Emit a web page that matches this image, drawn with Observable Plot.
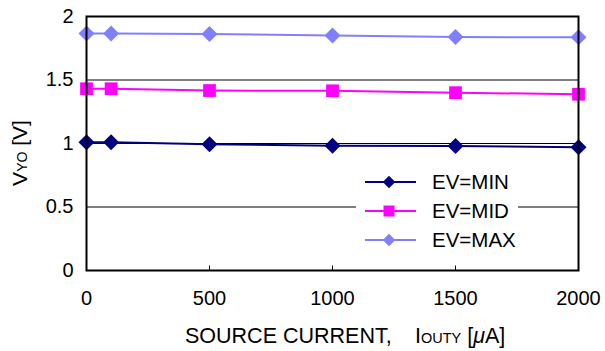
<!DOCTYPE html>
<html>
<head>
<meta charset="utf-8">
<script src="https://cdn.jsdelivr.net/npm/d3@7"></script>
<script src="https://cdn.jsdelivr.net/npm/@observablehq/plot@0.6"></script>
<style>
  html, body { margin: 0; padding: 0; background: #fff; }
  #chart svg { display: block; font-family: "Liberation Sans", Arial, sans-serif; }
</style>
</head>
<body>
<div id="chart"></div>
<script>
const current = [0, 100, 500, 1000, 1500, 2000];
const evMin = [1.010, 1.010, 0.995, 0.982, 0.980, 0.970];
const evMid = [1.431, 1.431, 1.417, 1.415, 1.400, 1.388];
const evMax = [1.866, 1.866, 1.862, 1.850, 1.838, 1.836];
const seriesNames = ["EV=MIN", "EV=MID", "EV=MAX"];
const seriesColors = ["#000080", "#FF00FF", "#8080FF"];
const seriesSymbols = ["diamond2", "square", "diamond2"];
const xTicks = [0, 500, 1000, 1500, 2000];
const yTicks = [0, 0.5, 1, 1.5, 2];
const gridY = [0.5, 1, 1.5];

const seriesValues = [evMin, evMid, evMax];
const rows = [];
seriesNames.forEach((name, i) => {
  current.forEach((c, j) => rows.push({series: name, x: c, y: seriesValues[i][j]}));
});

const font = "Liberation Sans, Arial, sans-serif";
const marks = [
  Plot.ruleY(gridY, {stroke: "#000", strokeWidth: 1}),
  Plot.ruleX(xTicks, {x: d => d, y1: 0, y2: 0.035, stroke: "#000", strokeWidth: 1}),
  Plot.axisX({ticks: xTicks, tickSize: 0, tickPadding: 20, tickFormat: d => String(d), label: null, fill: "#000"}),
  Plot.axisY({ticks: yTicks, tickSize: 0, tickPadding: 13, tickFormat: d => String(d), label: null, fill: "#000"})
];
seriesNames.forEach((name, i) => {
  const data = rows.filter(d => d.series === name);
  marks.push(Plot.line(data, {x: "x", y: "y", stroke: seriesColors[i], strokeWidth: 2}));
  marks.push(Plot.dot(data, {x: "x", y: "y", symbol: seriesSymbols[i], fill: seriesColors[i], r: seriesSymbols[i] === "square" ? 7.2 : 7.2, stroke: "none"}));
});
marks.push(Plot.frame({stroke: "#000", strokeWidth: 2}));

const chart = Plot.plot({
  width: 605,
  height: 351,
  marginLeft: 86,
  marginRight: 27,
  marginTop: 16,
  marginBottom: 81,
  style: {fontFamily: font, fontSize: "20px", background: "#fff", color: "#000", overflow: "visible"},
  x: {domain: [0, 2000]},
  y: {domain: [0, 2]},
  marks
});

const svg = d3.select(chart);

// Legend
const lg = svg.append("g");
lg.append("rect").attr("x", 356).attr("y", 166).attr("width", 162).attr("height", 88).attr("fill", "#fff");
seriesNames.forEach((name, i) => {
  const cy = 182 + i * 29;
  lg.append("line").attr("x1", 365).attr("x2", 416).attr("y1", cy).attr("y2", cy)
    .attr("stroke", seriesColors[i]).attr("stroke-width", 2);
  const sym = seriesSymbols[i] === "square" ? d3.symbolSquare : d3.symbolDiamond2;
  const size = seriesSymbols[i] === "square" ? 121 : 100;
  lg.append("path").attr("d", d3.symbol(sym, size)()).attr("transform", `translate(389,${cy})`)
    .attr("fill", seriesColors[i]);
  lg.append("text").attr("x", 432).attr("y", cy).attr("dy", "0.36em")
    .style("text-anchor", "start").style("font-size", "20.5px").attr("fill", "#000").text(name);
});

// X title
const xt = svg.append("text").attr("x", 185).attr("y", 343)
  .style("text-anchor", "start").style("font-size", "21.5px").attr("fill", "#000");
xt.append("tspan").text("SOURCE CURRENT,");
xt.append("tspan").attr("x", 415).text("I");
xt.append("tspan").style("font-size", "14.5px").text("OUTY");
xt.append("tspan").text(" [");
xt.append("tspan").style("font-style", "italic").text("μ");
xt.append("tspan").text("A]");

// Y title
const yt = svg.append("text").attr("transform", "translate(27,153) rotate(-90)")
  .style("text-anchor", "middle").style("font-size", "21px").attr("fill", "#000");
yt.append("tspan").text("V");
yt.append("tspan").style("font-size", "14px").text("YO");
yt.append("tspan").text(" [V]");

document.getElementById("chart").appendChild(chart);
</script>
</body>
</html>
